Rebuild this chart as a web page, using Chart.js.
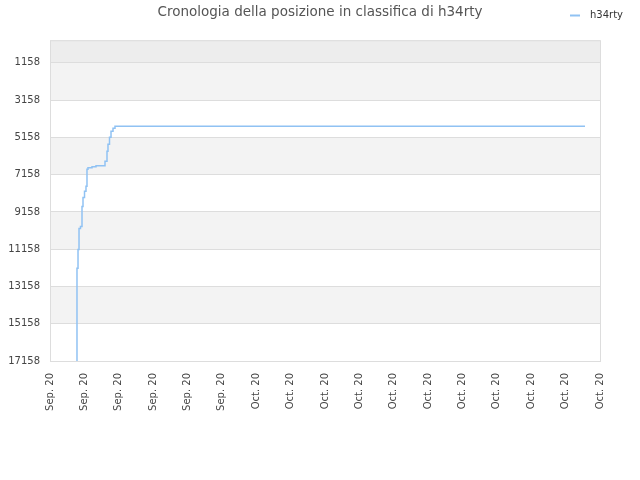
<!DOCTYPE html>
<html>
<head>
<meta charset="utf-8">
<script src="https://cdn.jsdelivr.net/npm/chart.js@4.4.1/dist/chart.umd.min.js"></script>
<style>
  html, body { margin: 0; padding: 0; background: #fff; }
  #wrap { width: 640px; height: 480px; }
</style>
</head>
<body>
<div id="wrap"><canvas id="rankChart"></canvas></div>
<script>
// x positions in tick units (0 = first label), rank
const timeIdx = [0.785, 0.785, 0.815, 0.815, 0.844, 0.844, 0.887, 0.931, 0.931, 0.960, 1.004, 1.047, 1.076, 1.076, 1.105, 1.222, 1.338, 1.600, 1.658, 1.687, 1.731, 1.775, 1.833, 1.891, 1.978, 15.564];
const ranks = [17158, 12174, 12174, 11178, 11178, 10208, 10047, 9939, 9238, 8861, 8377, 8053, 7784, 7084, 6868, 6788, 6733, 6680, 6437, 5899, 5521, 5144, 4821, 4660, 4552, 4552];
const xLabels = ['Sep. 20', 'Sep. 20', 'Sep. 20', 'Sep. 20', 'Sep. 20', 'Sep. 20', 'Oct. 20', 'Oct. 20', 'Oct. 20', 'Oct. 20', 'Oct. 20', 'Oct. 20', 'Oct. 20', 'Oct. 20', 'Oct. 20', 'Oct. 20', 'Oct. 20'];
const yTicks = [1158, 3158, 5158, 7158, 9158, 11158, 13158, 15158, 17158];
const playerName = 'h34rty';

const lineColor = '#90c2f3';
const gridColor = '#dddddd';
const textColor = '#444444';
const yMin = -60;

// background bands between the y ticks
const bandsPlugin = {
    id: 'bands',
    beforeDraw(chart) {
        const { ctx, chartArea, scales } = chart;
        const y = scales.y;
        const edges = [yMin].concat(yTicks);
        ctx.save();
        for (let i = 0; i < edges.length - 1; i++) {
            let fill = null;
            if (i === 0) fill = '#ededed';
            else if (i % 2 === 1) fill = '#f3f3f3';
            if (!fill) continue;
            const y1 = y.getPixelForValue(edges[i]);
            const y2 = y.getPixelForValue(edges[i + 1]);
            ctx.fillStyle = fill;
            ctx.fillRect(chartArea.left, y1, chartArea.right - chartArea.left, y2 - y1);
        }
        ctx.restore();
    },
    beforeDatasetsDraw(chart) {
        const { ctx, chartArea } = chart;
        ctx.save();
        ctx.strokeStyle = gridColor;
        ctx.lineWidth = 1;
        ctx.strokeRect(chartArea.left + 0.5, chartArea.top + 0.5, chartArea.right - chartArea.left, chartArea.bottom - chartArea.top);
        ctx.restore();
    }
};

// legend drawn in the top right corner, on the same row as the title
const cornerLegend = {
    id: 'cornerLegend',
    afterDraw(chart) {
        const ctx = chart.ctx;
        ctx.save();
        ctx.strokeStyle = lineColor;
        ctx.lineWidth = 2;
        ctx.beginPath();
        ctx.moveTo(570, 15.5);
        ctx.lineTo(580, 15.5);
        ctx.stroke();
        ctx.fillStyle = '#333';
        ctx.font = '10px "DejaVu Sans"';
        ctx.textBaseline = 'middle';
        ctx.fillText(chart.data.datasets[0].label, 590, 15);
        ctx.restore();
    }
};

const points = timeIdx.map((x, i) => ({ x: x, y: ranks[i] }));

new Chart(document.getElementById('rankChart'), {
    type: 'line',
    data: {
        datasets: [{
            label: playerName,
            data: points,
            borderColor: lineColor,
            backgroundColor: lineColor,
            borderWidth: 1.5,
            pointRadius: 0,
            fill: false,
            stepped: 'after'
        }]
    },
    options: {
        responsive: true,
        maintainAspectRatio: false,
        animation: false,
        layout: { padding: { left: 0, right: 0, top: 0, bottom: 69 } },
        plugins: {
            legend: { display: false },
            tooltip: { enabled: false },
            title: {
                display: true,
                text: 'Cronologia della posizione in classifica di ' + playerName,
                color: '#555555',
                font: { family: '"DejaVu Sans"', size: 13.5, weight: 'normal' },
                padding: { top: 4, bottom: 20 }
            }
        },
        scales: {
            x: {
                type: 'linear',
                min: 0,
                max: xLabels.length - 1,
                grid: { display: false, drawTicks: false },
                border: { display: false },
                afterBuildTicks(scale) {
                    scale.ticks = xLabels.map((_, i) => ({ value: i }));
                },
                afterFit(scale) { scale.height = 50; },
                ticks: {
                    color: textColor,
                    font: { family: '"DejaVu Sans"', size: 10 },
                    minRotation: 90,
                    maxRotation: 90,
                    padding: 12,
                    autoSkip: false,
                    callback: (v, i) => xLabels[i]
                }
            },
            y: {
                reverse: true,
                min: yMin,
                max: 17158,
                grid: { color: gridColor, drawTicks: false },
                border: { display: false },
                afterBuildTicks(scale) {
                    scale.ticks = yTicks.map(v => ({ value: v }));
                },
                afterFit(scale) { scale.width = 50; },
                ticks: {
                    color: textColor,
                    font: { family: '"DejaVu Sans"', size: 10 },
                    padding: 10,
                    callback: v => String(v)
                }
            },
            // empty right margin so the title centres on the whole canvas
            yRight: {
                position: 'right',
                grid: { display: false, drawTicks: false },
                border: { display: false },
                ticks: { display: false },
                afterFit(scale) { scale.width = 40; }
            }
        }
    },
    plugins: [bandsPlugin, cornerLegend]
});
</script>
</body>
</html>
